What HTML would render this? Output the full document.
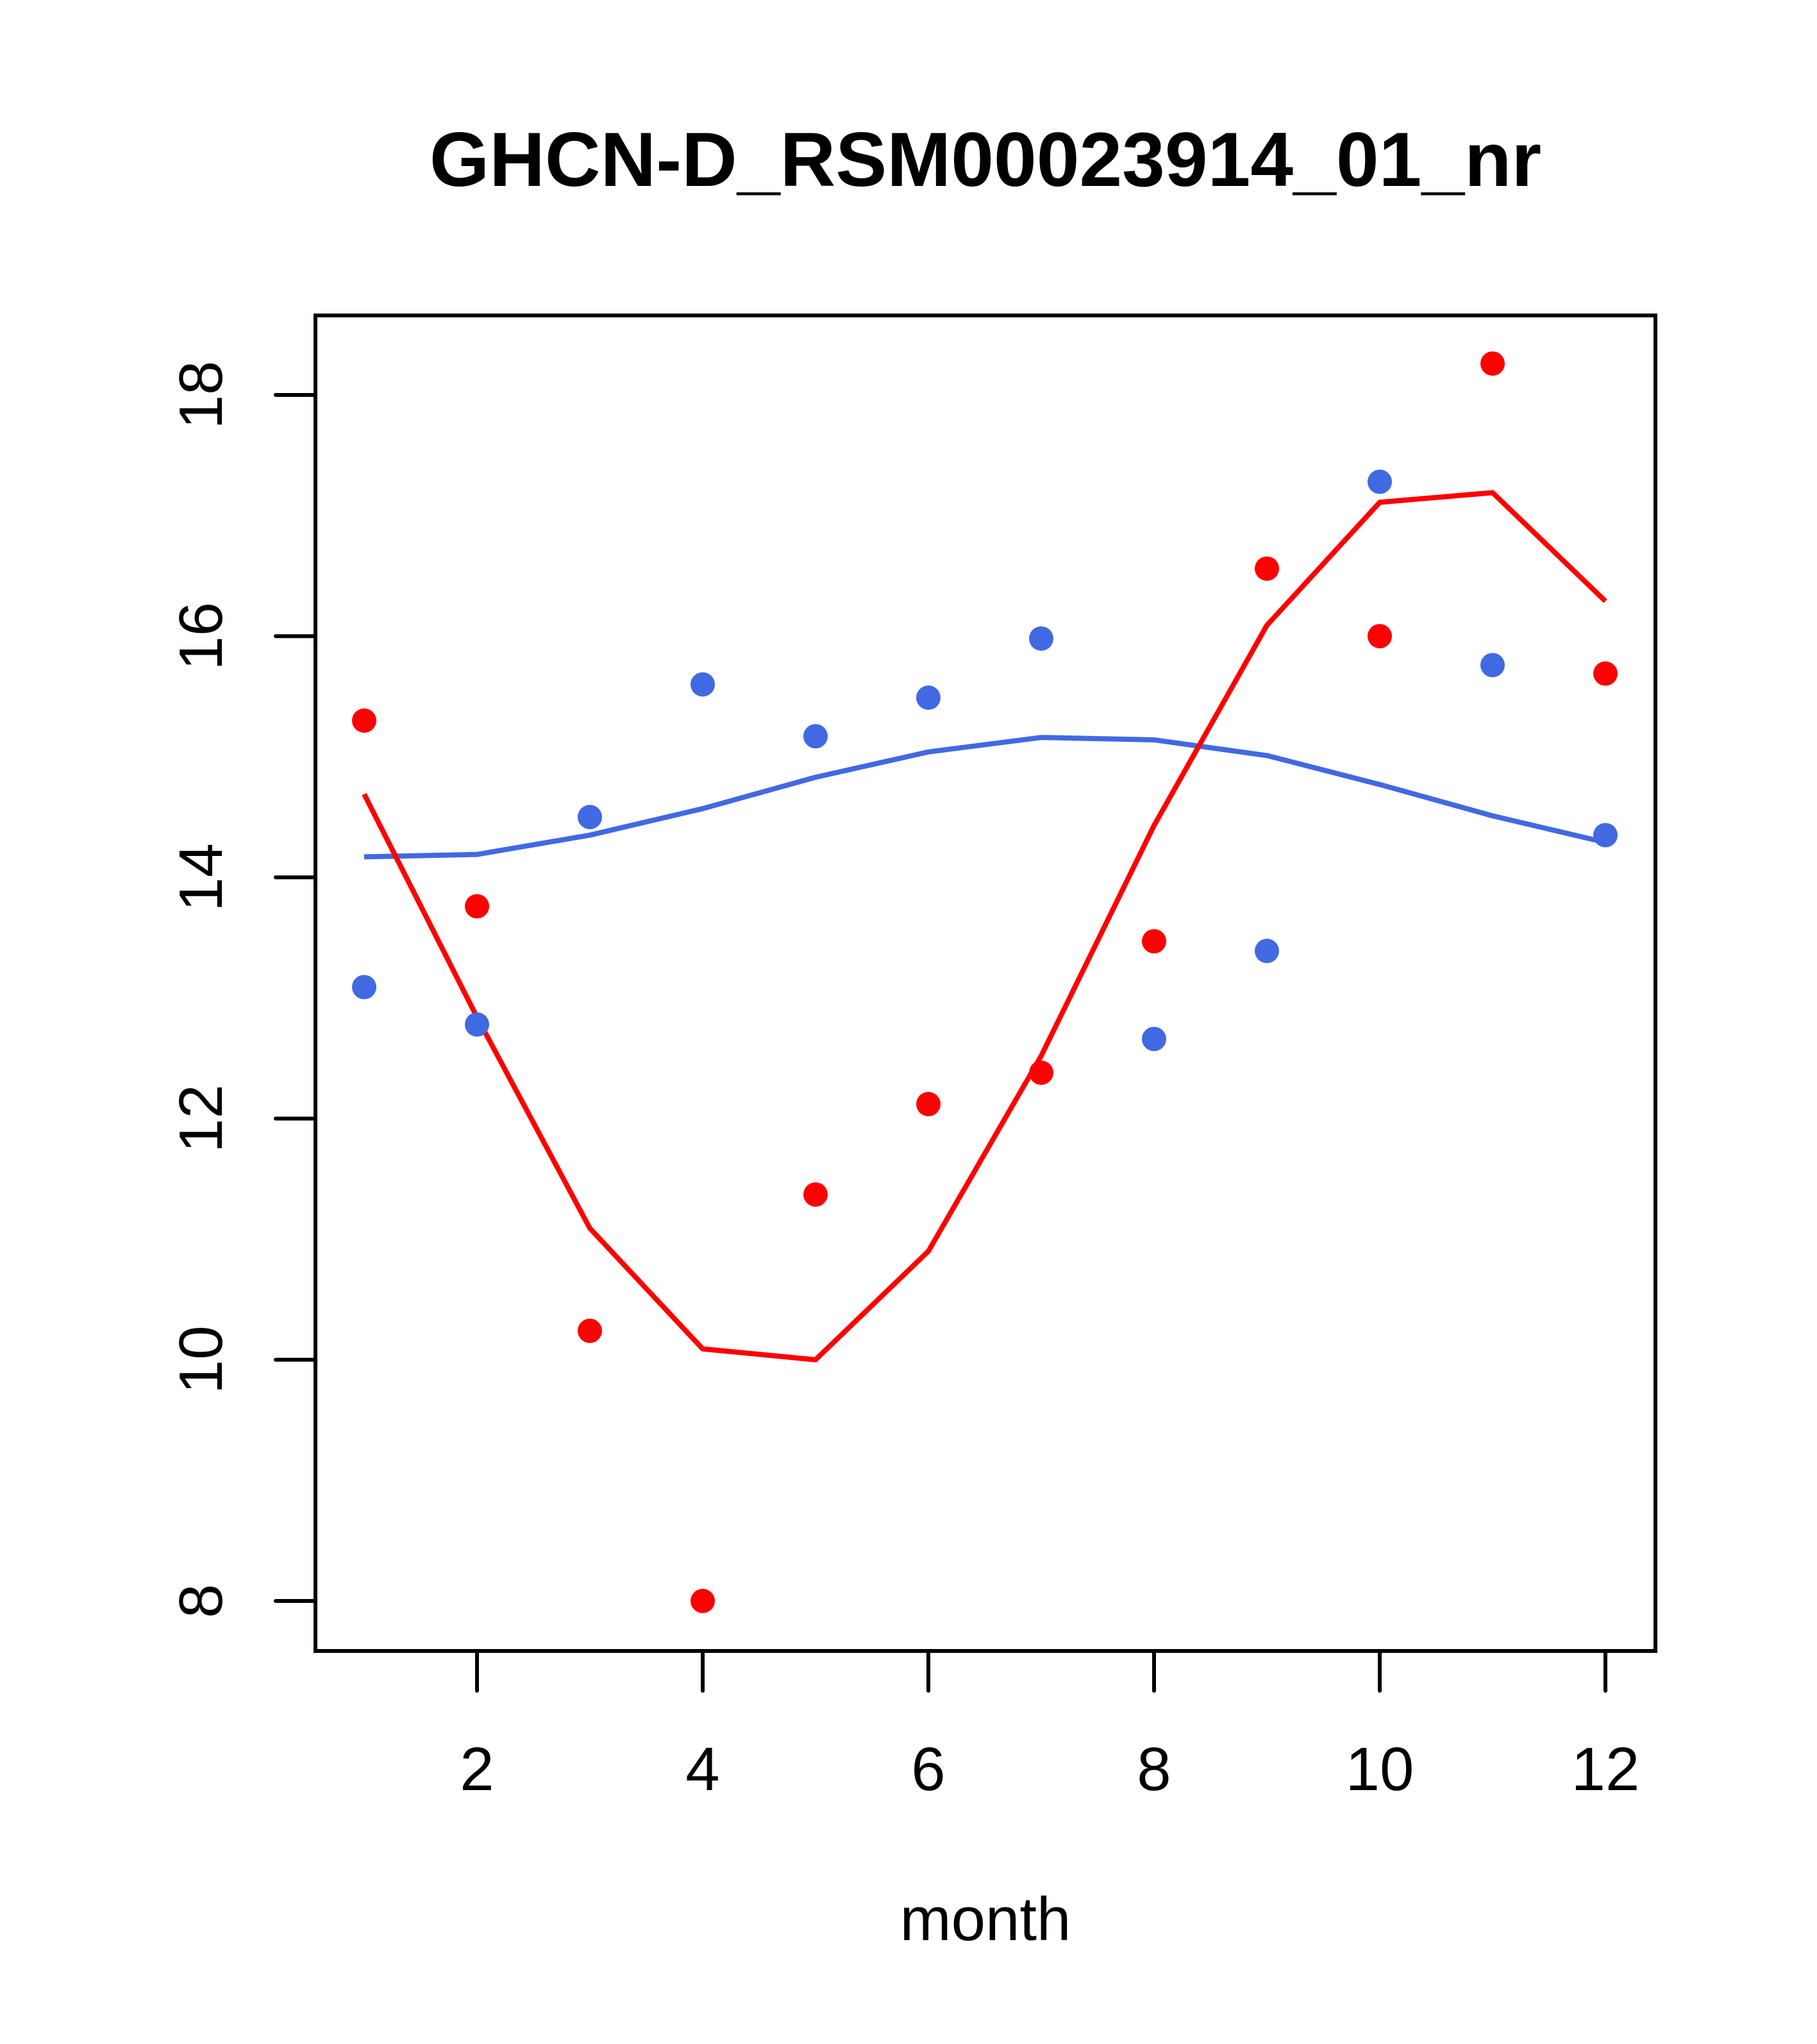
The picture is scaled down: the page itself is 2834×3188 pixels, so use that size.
<!DOCTYPE html>
<html><head><meta charset="utf-8"><style>
html,body{margin:0;padding:0;background:#fff;}
svg{display:block;font-family:"Liberation Sans",Arial,sans-serif;}
</style></head><body>
<svg id="chart" width="2834" height="3188" viewBox="0 0 2834 3188" xmlns="http://www.w3.org/2000/svg">
<rect width="2834" height="3188" fill="#fff"/>
<text x="1537" y="290" font-size="120" font-weight="bold" text-anchor="middle">GHCN-D_RSM00023914_01_nr</text>
<g id="plot"></g>
<text x="1537" y="3026" font-size="96" text-anchor="middle">month</text>
</svg>
<script>
const months = [1,2,3,4,5,6,7,8,9,10,11,12];
const redPoints = [15.30,13.76,10.24,8.0,11.37,12.12,12.38,13.47,16.56,16.0,18.26,15.69];
const bluePoints = [13.09,12.78,14.50,15.60,15.17,15.49,15.98,12.66,13.39,17.28,15.76,14.35];
const redLine = [14.69,12.84,11.09,10.09,10.0,10.90,12.52,14.43,16.09,17.11,17.19,16.29];
const blueLine = [14.17,14.19,14.35,14.57,14.83,15.04,15.16,15.14,15.01,14.77,14.51,14.29];
const xTicks = [2,4,6,8,10,12];
const yTicks = [8,10,12,14,16,18];

const NS = "http://www.w3.org/2000/svg";
const g = document.getElementById('plot');
const L=492,R=2582,T=492,B=2575;
function sx(m){return 744 + (m-2)*176;}
function sy(v){return 616 + (18-v)*188.1;}
function mk(tag, attrs){const e=document.createElementNS(NS,tag);for(const k in attrs)e.setAttribute(k,attrs[k]);g.appendChild(e);return e;}

const box = mk('rect',{x:L,y:T,width:R-L,height:B-T,fill:'none',stroke:'#000','stroke-width':6});



xTicks.forEach(t=>{
  const l=mk('line',{x1:sx(t),x2:sx(t),y1:B,y2:B+62,stroke:'#000','stroke-width':6,'stroke-linecap':'round'});
  
  
  const tx=mk('text',{x:sx(t),y:2792,'font-size':96,'text-anchor':'middle'});
  tx.textContent=t;
  
  
});
yTicks.forEach(t=>{
  const l=mk('line',{x1:L-62,x2:L,y1:sy(t),y2:sy(t),stroke:'#000','stroke-width':6,'stroke-linecap':'round'});
  
  
  const tx=mk('text',{x:0,y:0,'font-size':96,'text-anchor':'middle',transform:`translate(346,${sy(t)}) rotate(-90)`});
  tx.textContent=t;
  
  
});

function line(vals,color,name){
  const p=mk('polyline',{points:months.map((m,i)=>sx(m)+','+sy(vals[i])).join(' '),fill:'none',stroke:color,'stroke-width':8,'stroke-linejoin':'round'});
  
  
}
line(blueLine,'#4169E1','blue-line');
line(redLine,'#FF0000','red-line');

function pts(vals,color,name){
  months.forEach((m,i)=>{
    const c=mk('circle',{cx:sx(m),cy:sy(vals[i]),r:19,fill:color});
    
    
  });
}
pts(bluePoints,'#4169E1','blue-point');
pts(redPoints,'#FF0000','red-point');
</script>
</body></html>
